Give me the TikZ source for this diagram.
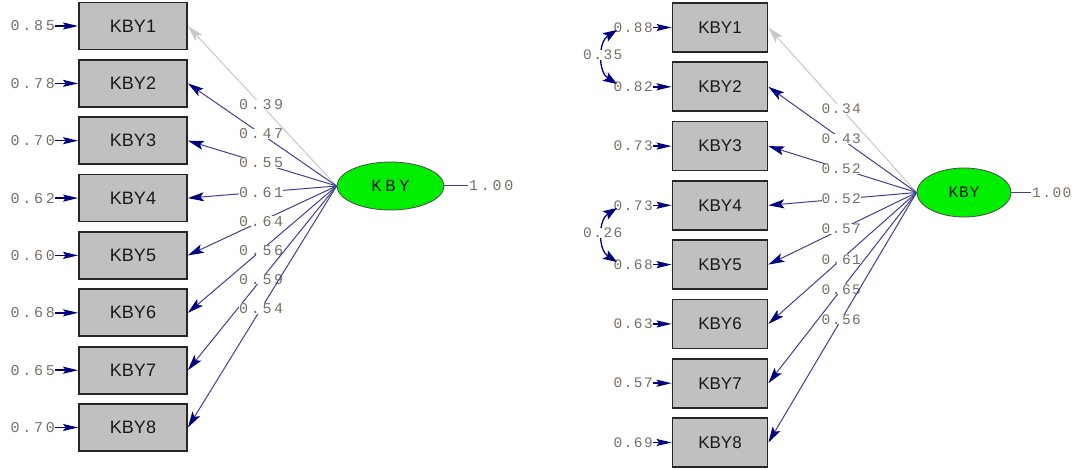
\documentclass[tikz,border=0pt]{standalone}
\usepackage{fontspec}
\setmainfont{Liberation Sans}
\newfontfamily\lmono[LetterSpace=18]{Liberation Mono}
\newfontfamily\rmono[LetterSpace=10]{Liberation Mono}
\newfontfamily\lell[LetterSpace=22]{Liberation Mono}
\newfontfamily\rell[LetterSpace=6]{Liberation Mono}
\usetikzlibrary{arrows.meta,shapes.geometric}
\definecolor{boxgray}{RGB}{192,192,192}
\definecolor{lvgreen}{RGB}{0,238,0}
\definecolor{navyarrow}{RGB}{0,0,128}
\definecolor{loadline}{RGB}{64,64,144}
\definecolor{labgray}{RGB}{120,112,104}
\definecolor{faint}{RGB}{200,200,200}
\tikzset{
  obs/.style={draw=black!85, line width=1.8pt, fill=boxgray, inner sep=0pt, text=black!90},
  lobs/.style={obs, minimum width=108pt, minimum height=47pt, font=\fontsize{18}{20}\selectfont},
  robs/.style={obs, minimum width=95pt, minimum height=49pt, font=\fontsize{17}{20}\selectfont},
  lat/.style={ellipse, draw=black!70, line width=0.8pt, fill=lvgreen, inner sep=0pt, text=black!90},
  num/.style={text=labgray, inner sep=0pt},
  lnum/.style={num, font=\lmono\fontsize{15}{16}\selectfont},
  rnum/.style={num, font=\rmono\fontsize{14.5}{16}\selectfont},
  lab/.style={fill=white, inner sep=1pt},
  loadl/.style={draw=loadline, line width=1pt, -{Stealth[length=16pt,width=9pt,inset=3.5pt,color=navyarrow]}},
  loadf/.style={draw=faint, line width=1pt, -{Stealth[length=16pt,width=9pt,inset=3.5pt,color=faint]}},
  errl/.style={draw=navyarrow, line width=1.5pt, -{Stealth[length=15pt,width=7pt,inset=2.5pt]}},
  covl/.style={draw=navyarrow, line width=1.3pt, {Stealth[length=14pt,width=10pt,inset=3pt]}-{Stealth[length=14pt,width=10pt,inset=3pt]}},
  varl/.style={draw=loadline, line width=1pt}
}
\begin{document}
\begin{tikzpicture}[x=1pt,y=-1pt]
\useasboundingbox[fill=white] (0,0) rectangle (1073,470);

% ---------------- left model ----------------
\node[lat, minimum width=107pt, minimum height=48pt, font=\lell\fontsize{17}{18}\selectfont] (A) at (390.5,186) {KBY};
\coordinate (Av) at (468,186);
\draw[varl] (A.east) -- (Av);
\node[lnum, anchor=west] (Avl) at (469,186) {1.00};

\foreach \i/\y/\e in {1/26/0.85,2/83.4/0.78,3/140.7/0.70,4/198.1/0.62,5/255.4/0.60,6/312.8/0.68,7/370.2/0.65,8/427.5/0.70}{
  \node[lobs] (a\i) at (133,\y) {KBY\i};
  \node[lnum, anchor=east] (ea\i) at (55,\y) {\e};
  \draw[errl] (ea\i.east) -- (a\i.west);
}
\draw[loadf] (A.west) -- node[lab, lnum, pos=0.507] {0.39} (a1.east);
\foreach \i/\l in {2/0.47,3/0.55,4/0.61,5/0.64,6/0.56,7/0.59,8/0.54}{
  \draw[loadl] (A.west) -- node[lab, lnum, pos=0.507] {\l} (a\i.east);
}

% ---------------- right model ----------------
\node[lat, minimum width=94pt, minimum height=49pt, font=\rell\fontsize{16}{18}\selectfont] (B) at (964,192.5) {KBY};
\coordinate (Bv) at (1031,192.5);
\draw[varl] (B.east) -- (Bv);
\node[rnum, anchor=west] (Bvl) at (1032,192.5) {1.00};

\foreach \i/\y/\e in {1/27.5/0.88,2/86.8/0.82,3/146.1/0.73,4/205.3/0.73,5/264.6/0.68,6/323.9/0.63,7/383.2/0.57,8/442.5/0.69}{
  \node[robs] (b\i) at (720,\y) {KBY\i};
  \node[rnum, anchor=east] (eb\i) at (653,\y) {\e};
  \draw[errl] (eb\i.east) -- (b\i.west);
}
\draw[loadf] (B.west) -- node[lab, rnum, pos=0.508] {0.34} (b1.east);
\foreach \i/\l in {2/0.43,3/0.52,4/0.52,5/0.57,6/0.61,7/0.65,8/0.56}{
  \draw[loadl] (B.west) -- node[lab, rnum, pos=0.508] {\l} (b\i.east);
}

% covariances
\coordinate (c1a) at (617,30);
\coordinate (c1b) at (617,84);
\draw[covl] (c1a) .. controls (598,42) and (598,72) .. node[lab, rnum, pos=0.47] {0.35} (c1b);
\coordinate (c4a) at (617,208);
\coordinate (c4b) at (617,262);
\draw[covl] (c4a) .. controls (598,220) and (598,250) .. node[lab, rnum, pos=0.47] {0.26} (c4b);
\end{tikzpicture}
\end{document}
